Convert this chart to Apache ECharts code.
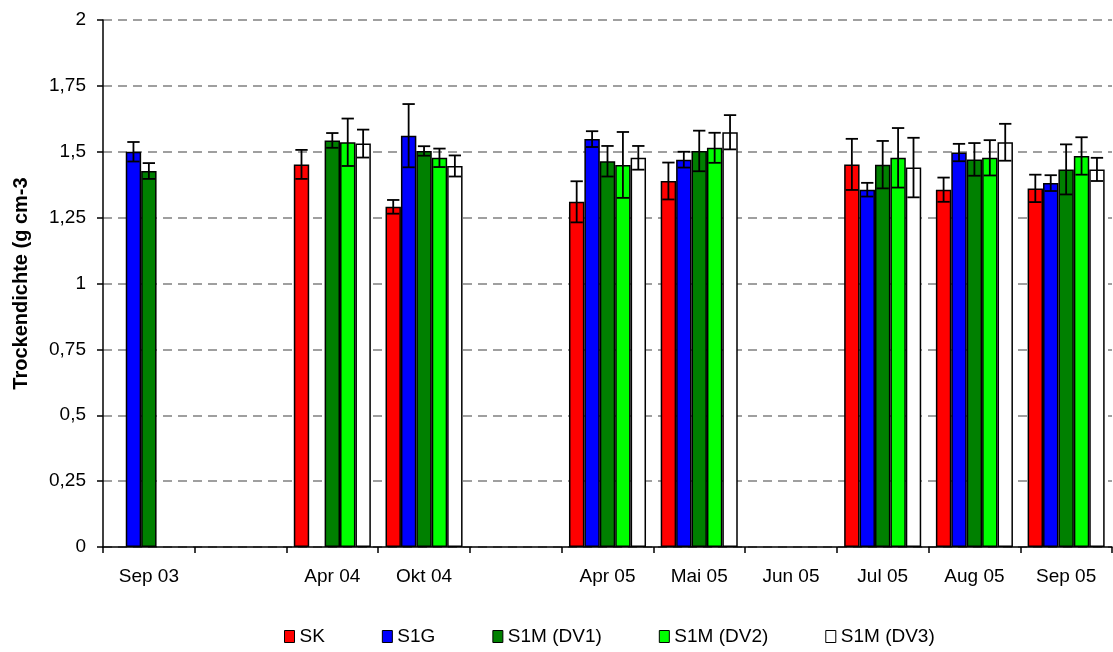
<!DOCTYPE html>
<html>
<head>
<meta charset="utf-8">
<script src="https://cdn.jsdelivr.net/npm/echarts@6/dist/echarts.min.js"></script>
<style>
  html, body { margin: 0; padding: 0; background: #fff; }
  #chart { width: 1113px; height: 652px; }
</style>
</head>
<body>
<div id="chart"></div>
<script>
// Kategorien (leere Stellen = Monate ohne Messung)
const categories = ['Sep 03', '', 'Apr 04', 'Okt 04', ' ', 'Apr 05', 'Mai 05', 'Jun 05', 'Jul 05', 'Aug 05', 'Sep 05'];
const seriesNames = ['SK', 'S1G', 'S1M (DV1)', 'S1M (DV2)', 'S1M (DV3)'];
const seriesColors = ['#ff0000', '#0000ff', '#008000', '#00ff00', '#ffffff'];

// Mittelwerte Trockendichte
const sk  = [null, null, 1.452, 1.291, null, 1.310, 1.389, null, 1.452, 1.356, 1.361];
const s1g = [1.500, null, null, 1.561, null, 1.548, 1.470, null, 1.356, 1.497, 1.381];
const dv1 = [1.427, null, 1.543, 1.503, null, 1.464, 1.503, null, 1.451, 1.471, 1.433];
const dv2 = [null, null, 1.536, 1.477, null, 1.450, 1.515, null, 1.477, 1.477, 1.484];
const dv3 = [null, null, 1.531, 1.446, null, 1.477, 1.574, null, 1.440, 1.536, 1.433];

// Fehlerbalken (+/-)
const skErr  = [null, null, 0.055, 0.026, null, 0.078, 0.070, null, 0.097, 0.046, 0.052];
const s1gErr = [0.037, null, null, 0.120, null, 0.030, 0.030, null, 0.026, 0.033, 0.030];
const dv1Err = [0.030, null, 0.028, 0.018, null, 0.058, 0.077, null, 0.090, 0.062, 0.095];
const dv2Err = [null, null, 0.090, 0.035, null, 0.125, 0.057, null, 0.113, 0.067, 0.071];
const dv3Err = [null, null, 0.053, 0.040, null, 0.045, 0.065, null, 0.113, 0.070, 0.044];

const values = [sk, s1g, dv1, dv2, dv3];
const errors = [skErr, s1gErr, dv1Err, dv2Err, dv3Err];

const yTicks = { min: 0, max: 2, interval: 0.25 };
const catGap = 0.16; // Anteil Lücke je Kategorie

const chart = echarts.init(document.getElementById('chart'));
const font = 'Liberation Sans, Arial, sans-serif';

// Balken
const barSeries = seriesNames.map((name, i) => ({
  name: name,
  type: 'bar',
  data: values[i],
  barGap: '0%',
  barCategoryGap: (catGap * 100) + '%',
  itemStyle: { color: seriesColors[i], borderColor: '#000', borderWidth: 1.5 },
  emphasis: { disabled: true },
  z: 2
}));

// Fehlerbalken als custom series (nur Punkte mit Wert)
const errSeries = seriesNames.map((name, i) => ({
  type: 'custom',
  name: name + ' err',
  z: 5,
  silent: true,
  data: values[i]
    .map((v, k) => (v == null ? null : [k, v, errors[i][k]]))
    .filter(d => d !== null),
  encode: { x: 0, y: 1 },
  renderItem: function (params, api) {
    const k = api.value(0);
    const v = api.value(1);
    const e = api.value(2);
    const catW = api.size([1, 0])[0];
    const bw = catW * (1 - catGap) / seriesNames.length;
    const cx = api.coord([k, v])[0] + (i - (seriesNames.length - 1) / 2) * bw;
    const yHi = api.coord([k, v + e])[1];
    const yLo = api.coord([k, v - e])[1];
    const half = bw * 0.4;
    const st = { stroke: '#000', lineWidth: 1.8 };
    return {
      type: 'group',
      children: [
        { type: 'line', shape: { x1: cx, y1: yHi, x2: cx, y2: yLo }, style: st },
        { type: 'line', shape: { x1: cx - half, y1: yHi, x2: cx + half, y2: yHi }, style: st },
        { type: 'line', shape: { x1: cx - half, y1: yLo, x2: cx + half, y2: yLo }, style: st }
      ]
    };
  }
}));

const option = {
  animation: false,
  backgroundColor: '#fff',
  textStyle: { fontFamily: font },
  grid: { left: 103, right: 1, top: 20, bottom: 105, containLabel: false, outerBoundsMode: 'none' },
  legend: {
    data: seriesNames,
    left: 284,
    top: 627,
    padding: 0,
    itemWidth: 10,
    itemHeight: 12,
    itemGap: 57,
    icon: 'rect',
    itemStyle: { borderColor: '#000', borderWidth: 1 },
    textStyle: { fontFamily: font, fontSize: 19, color: '#000' }
  },
  xAxis: {
    type: 'category',
    data: categories,
    axisLine: { lineStyle: { color: '#000', width: 1.5 } },
    axisTick: { show: true, length: 6, lineStyle: { color: '#000', width: 1.5 } },
    axisLabel: { color: '#000', fontSize: 19, margin: 20, fontFamily: font, interval: 0 },
    splitLine: { show: false }
  },
  yAxis: {
    type: 'value',
    min: yTicks.min,
    max: yTicks.max,
    interval: yTicks.interval,
    name: 'Trockendichte (g cm-3',
    nameLocation: 'middle',
    nameGap: 72,
    nameTextStyle: { fontFamily: font, fontSize: 20, fontWeight: 'bold', color: '#000' },
    axisLine: { show: true, lineStyle: { color: '#000', width: 1.5 } },
    axisTick: { show: true, length: 6, lineStyle: { color: '#000', width: 1.5 } },
    axisLabel: {
      color: '#000', fontSize: 19, margin: 17, fontFamily: font,
      formatter: v => String(v).replace('.', ',')
    },
    splitLine: { show: true, lineStyle: { color: '#808080', width: 1.5, type: [9, 6] } }
  },
  series: barSeries.concat(errSeries)
};

chart.setOption(option);
</script>
</body>
</html>
